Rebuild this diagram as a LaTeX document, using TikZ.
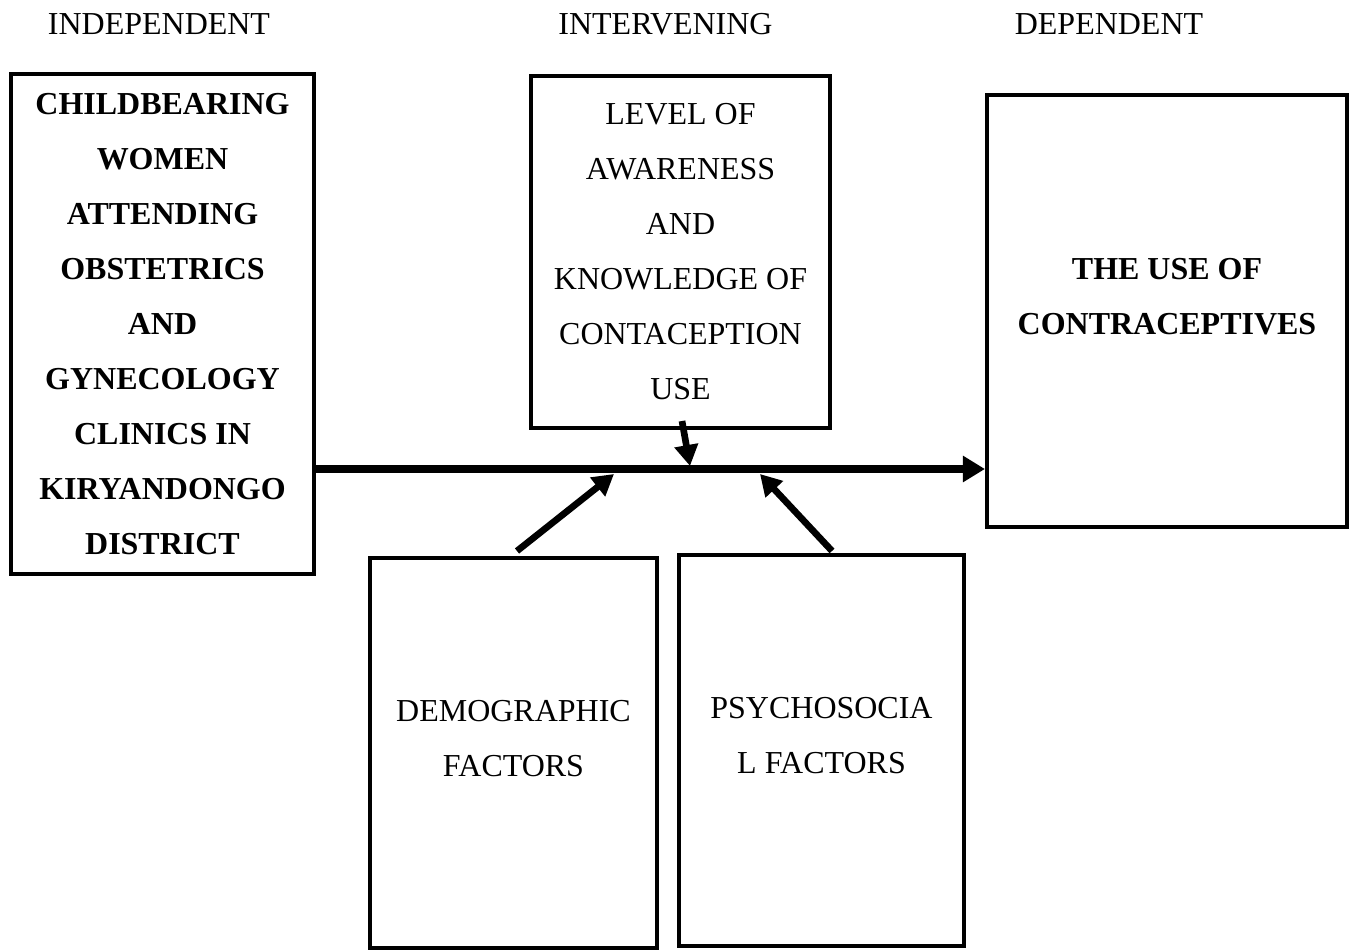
\documentclass[tikz,border=0pt]{standalone}
\usepackage{fontspec}
\setmainfont{Liberation Serif}
\usepackage{tikz}
\usetikzlibrary{arrows.meta, positioning}
\tikzset{
    varbox/.style={rectangle, draw=black, line width=2.3pt, align=center, inner sep=0pt, font=\fontsize{18.2pt}{31.3pt}\selectfont},
    heading/.style={align=center, inner sep=0pt, font=\fontsize{18.2pt}{31.3pt}\selectfont},
    arrow/.style={line width=3.8pt, -{Triangle[length=0.42cm, width=0.46cm]}},
    mainarrow/.style={line width=4.8pt, -{Triangle[length=0.44cm, width=0.5cm]}}
}
\begin{document}
\begin{tikzpicture}
    \useasboundingbox (0,0) rectangle (27.08,18.98);

    \node (hind) [heading] at (3.18,18.5) {INDEPENDENT};
    \node (hint) [heading] at (13.31,18.5) {INTERVENING};
    \node (hdep) [heading] at (22.18,18.5) {DEPENDENT};

    \node (indep) [varbox, minimum width=6.06cm, minimum height=10cm] at (3.25,12.5)
        {\bfseries CHILDBEARING\\ \bfseries WOMEN\\ \bfseries ATTENDING\\ \bfseries OBSTETRICS\\ \bfseries AND\\ \bfseries GYNECOLOGY\\ \bfseries CLINICS IN\\ \bfseries KIRYANDONGO\\ \bfseries DISTRICT};
    \node (aware) [varbox, minimum width=5.98cm, minimum height=7.04cm] at (13.61,13.94)
        {LEVEL OF\\ AWARENESS\\ AND\\ KNOWLEDGE OF\\ CONTACEPTION\\ USE};
    \node (dep) [varbox, minimum width=7.2cm, minimum height=8.64cm, text depth=0.6cm] at (23.34,12.76)
        {\bfseries THE USE OF\\ \bfseries CONTRACEPTIVES};
    \node (demog) [varbox, minimum width=5.74cm, minimum height=7.8cm, text depth=0.6cm] at (10.27,3.92)
        {DEMOGRAPHIC\\ FACTORS};
    \node (psych) [varbox, minimum width=5.7cm, minimum height=7.82cm, text depth=0.6cm] at (16.43,3.97)
        {PSYCHOSOCIA\\ L FACTORS};

    \coordinate (axis) at (13.6,9.6);
    \coordinate (tipA) at (13.8,9.66);
    \coordinate (tipD) at (12.28,9.5);
    \coordinate (tipP) at (15.2,9.5);

    \draw [mainarrow] (indep.east |- axis) -- (dep.west |- axis);
    \draw [arrow] ([xshift=0.03cm,yshift=0.18cm]aware.south) -- (tipA);
    \draw [arrow] ([xshift=0.07cm,yshift=0.1cm]demog.north) -- (tipD);
    \draw [arrow] ([xshift=0.21cm,yshift=0.04cm]psych.north) -- (tipP);
\end{tikzpicture}
\end{document}
